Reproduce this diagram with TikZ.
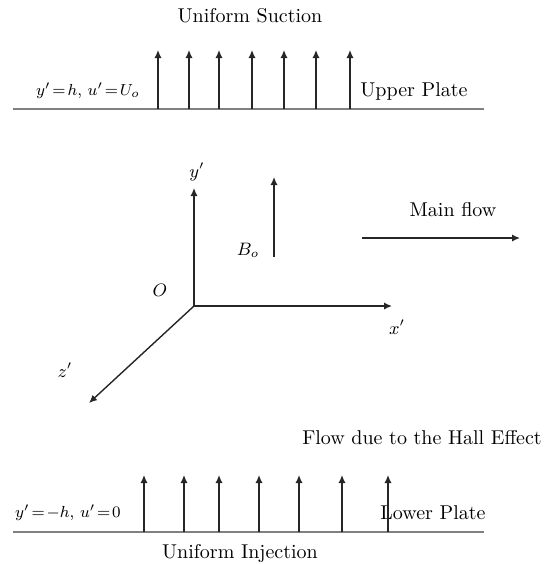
\documentclass[tikz,border=0pt]{standalone}
\usetikzlibrary{arrows.meta}
\tikzset{
  flowarrow/.style={-{Latex[length=4pt,width=3.6pt]}, line width=0.7pt, black!85},
  plateline/.style={gray, line width=1pt},
  axisline/.style={-{Latex[length=4pt,width=3.6pt]}, line width=0.7pt, black!85},
}
\begin{document}
\begin{tikzpicture}[x=0.5pt,y=-0.5pt]
  \useasboundingbox (0,0) rectangle (552,564);
  % upper plate
  \node (suction) at (250,16) {Uniform Suction};
  \draw[plateline] (13,109) -- (484,109);
  \node (upperbc) at (88,91) {\footnotesize $y'\!=\!h,\, u'\!=\!U_{o}$};
  \node (upper) at (414,91) {Upper Plate};
  \foreach \x in {158,189,219,252,284,316,350}{
    \draw[flowarrow] (\x,109) -- (\x,50);
  }
  % axes
  \coordinate (O) at (194,306);
  \coordinate (yend) at (194,188);
  \coordinate (xend) at (392,306);
  \coordinate (zend) at (89,403);
  \draw[axisline] (O) -- (yend);
  \draw[axisline] (O) -- (xend);
  \draw[axisline] (O) -- (zend);
  \node (ylab) at (197,172) {\small $y'$};
  \node (xlab) at (397,327) {\small $x'$};
  \node (zlab) at (65,370) {\small $z'$};
  \node (olab) at (160,290) {\small $O$};
  % magnetic field
  \coordinate (bstart) at (274,257);
  \coordinate (bend) at (274,177);
  \draw[axisline] (bstart) -- (bend);
  \node (blab) at (248,250) {\small $B_{o}$};
  % main flow
  \node (mainflow) at (453,210) {Main flow};
  \coordinate (mstart) at (362,238);
  \coordinate (mend) at (520,238);
  \draw[axisline] (mstart) -- (mend);
  % lower plate
  \node (hall) at (422,438) {Flow due to the Hall Effect};
  \draw[plateline] (13,532) -- (484,532);
  \node (lowerbc) at (68,513) {\footnotesize $y'\!=\!-h,\, u'\!=\!0$};
  \node (lower) at (433,513) {Lower Plate};
  \foreach \x in {144,184,219,259,299,342,388}{
    \draw[flowarrow] (\x,532) -- (\x,475);
  }
  \node (injection) at (240,553) {Uniform Injection};
\end{tikzpicture}
\end{document}
